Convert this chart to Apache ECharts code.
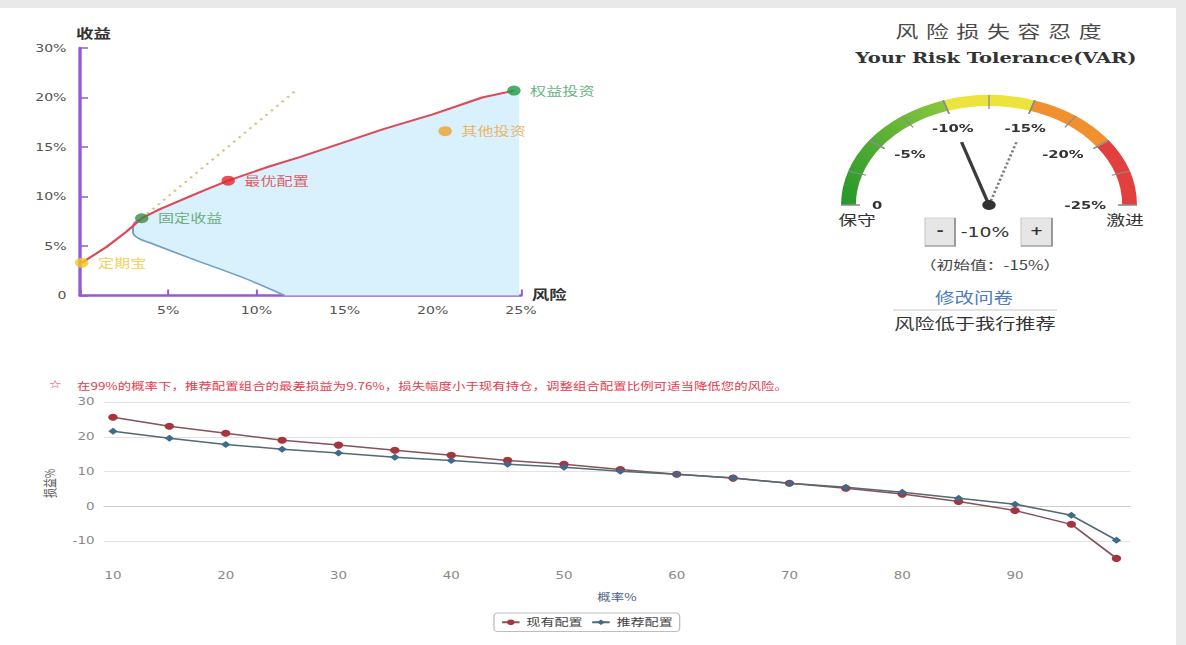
<!DOCTYPE html>
<html>
<head>
<meta charset="utf-8">
<script src="https://cdn.jsdelivr.net/npm/echarts@6/dist/echarts.min.js"></script>
<style>
  html, body { margin: 0; padding: 0; background: #e9e9e9; overflow: hidden; }
  #board { position: absolute; left: 0; top: 0; height: 645px; transform-origin: 0 0; }
</style>
</head>
<body>
<div id="board"></div>
<script>
// ---- efficient frontier (risk %, return %) ----
const frontierCurve = [[0.1,3.3],[1.5,4.9],[2.6,6.4],[3.5,7.8],[4.5,8.7],[5.7,9.6],[7.0,10.6],[8.4,11.6],
                       [10.5,12.9],[12.5,14.0],[15.0,15.5],[17.2,16.8],[20.0,18.3],[22.8,20.0],[24.6,20.7]];
const lowerCurve = [[3.4,7.7],[3.06,7.3],[3.0,6.4],[3.3,5.8],[4.0,5.3],[6.2,3.8],[9.1,1.9],[11.6,0]];
const tangentLine = [[3.5,7.8],[12.3,20.8]];
const frontierEdge = 24.9;
const assetNames  = ['定期宝','固定收益','最优配置','其他投资','权益投资'];
const assetRisk   = [0.1, 3.5, 8.4, 20.7, 24.6];
const assetReturn = [3.3, 7.8, 11.6, 16.6, 20.7];
const riskTickLabels   = ['', '5%', '10%', '15%', '20%', '25%'];
const returnTickLabels = ['0', '5%', '10%', '15%', '20%', '30%'];

// ---- risk tolerance gauge ----
const gaugeTickLabels = ['0', '-5%', '-10%', '-15%', '-20%', '-25%'];
const toleranceCurrent = 10;
const toleranceInitial = 15;

// ---- VaR curve ----
const probLevels     = [10,15,20,25,30,35,40,45,50,55,60,65,70,75,80,85,90,95,99];
const currentVar     = [25.6,23.0,21.0,19.0,17.6,16.1,14.7,13.2,12.1,10.6,9.2,8.1,6.6,5.2,3.5,1.4,-1.2,-5.2,-15.0];
const recommendedVar = [21.6,19.6,17.8,16.4,15.3,14.1,13.2,12.1,11.2,10.1,9.2,8.1,6.6,5.5,4.0,2.3,0.6,-2.6,-9.76];
const probTicks = [10,20,30,40,50,60,70,80,90];
const lossTicks = [-10,0,10,20,30];
const seriesNames = ['现有配置','推荐配置'];

// board is laid out narrow and stretched horizontally
const SX = 1.345;
const W = 1186 / SX;
const px = x => x / SX;

const board = document.getElementById('board');
board.style.width = W + 'px';
board.style.transform = 'scaleX(' + SX + ')';

const assetColors = ['#f2c81e', '#3f8a47', '#e3262b', '#eea12a', '#1f9a48'];
const assetLabelColors = ['#f0c428', '#4f9a5a', '#e2343a', '#eea43a', '#3aa060'];
const purple = '#955bd3';
const cjk = "'Noto Sans CJK SC', sans-serif";
const sans = "'DejaVu Sans', 'Noto Sans CJK SC', sans-serif";

function fillOutline() {
  const start = lowerCurve[0];
  const top = [start].concat(frontierCurve.filter(p => p[0] > start[0]));
  const last = top[top.length - 1];
  return top.concat([[frontierEdge, last[1]], [frontierEdge, 0]], lowerCurve.slice().reverse());
}

const dashedNeedle = (() => {
  let p = 'path://';
  for (let y = 0; y < 64; y += 4) p += 'M0 ' + y + 'h2v2h-2z';
  return p;
})();

const gaugeBands = [
  [0.4, new echarts.graphic.LinearGradient(0, 1, 1, 0, [{offset: 0, color: '#23962a'}, {offset: 1, color: '#8cc83e'}])],
  [0.6, '#ece43c'],
  [0.8, '#f0902e'],
  [1, '#e2403e']
];

const titleChars = '风险损失容忍度'.split('');
const graphics = [
  {type: 'rect', z: -10, shape: {x: 0, y: 8, width: px(1176), height: 637}, style: {fill: '#ffffff'}, silent: true},
  // gauge header
  ...titleChars.map((c, i) => ({
    type: 'text', x: px(998.5) + (i - 3) * 22.7, y: 31,
    style: {text: c, fontSize: 17, fontFamily: cjk, fill: '#4a4a4a', align: 'center', verticalAlign: 'middle'}
  })),
  {type: 'text', x: px(996), y: 58, style: {text: 'Your Risk Tolerance(VAR)', fontSize: 14.5, fontWeight: 'bold',
    fontFamily: "'DejaVu Serif', serif", fill: '#333', align: 'center', verticalAlign: 'middle'}},
  {type: 'text', x: px(857), y: 219, style: {text: '保守', fontSize: 14, fontFamily: cjk, fill: '#333', align: 'center', verticalAlign: 'middle'}},
  {type: 'text', x: px(1125), y: 219, style: {text: '激进', fontSize: 14, fontFamily: cjk, fill: '#333', align: 'center', verticalAlign: 'middle'}},
  // stepper
  {type: 'rect', shape: {x: px(925), y: 218, width: px(955) - px(925), height: 28}, style: {fill: '#e6e6e6', stroke: '#d0d0d0'}},
  {type: 'polyline', shape: {points: [[px(955), 218], [px(955), 246], [px(925), 246]]}, style: {stroke: '#8a8a8a', lineWidth: 1.2, fill: null}},
  {type: 'text', x: px(940), y: 231, style: {text: '-', fontSize: 13, fontWeight: 'bold', fontFamily: sans, fill: '#333', align: 'center', verticalAlign: 'middle'}},
  {type: 'rect', shape: {x: px(1021), y: 218, width: px(1052) - px(1021), height: 28}, style: {fill: '#e6e6e6', stroke: '#d0d0d0'}},
  {type: 'polyline', shape: {points: [[px(1052), 218], [px(1052), 246], [px(1021), 246]]}, style: {stroke: '#8a8a8a', lineWidth: 1.2, fill: null}},
  {type: 'text', x: px(1036.5), y: 231, style: {text: '+', fontSize: 12, fontWeight: 'bold', fontFamily: sans, fill: '#333', align: 'center', verticalAlign: 'middle'}},
  {type: 'text', x: px(985), y: 232, style: {text: '-' + toleranceCurrent + '%', fontSize: 14, fontFamily: sans, fill: '#333', align: 'center', verticalAlign: 'middle'}},
  {type: 'text', x: px(990), y: 265, style: {text: '（初始值：-' + toleranceInitial + '%）', fontSize: 12.5, fontFamily: cjk, fill: '#444', align: 'center', verticalAlign: 'middle'}},
  {type: 'text', x: px(974), y: 297, style: {text: '修改问卷', fontSize: 14.5, fontFamily: cjk, fill: '#4a7bc4', align: 'center', verticalAlign: 'middle'}},
  {type: 'line', shape: {x1: px(893), y1: 310, x2: px(1057), y2: 310}, style: {stroke: '#c8c8c8', lineWidth: 1}},
  {type: 'text', x: px(975), y: 322, style: {text: '风险低于我行推荐', fontSize: 15, fontFamily: cjk, fill: '#333', align: 'center', verticalAlign: 'middle'}},
  // VaR caption
  {type: 'text', x: px(55), y: 384, style: {text: '☆', fontSize: 11, fontFamily: sans, fill: '#e83a4a', align: 'center', verticalAlign: 'middle'}},
  {type: 'text', x: px(77), y: 385, style: {
    text: '在99%的概率下，推荐配置组合的最差损益为' + Math.abs(recommendedVar[recommendedVar.length - 1]) +
          '%，损失幅度小于现有持仓，调整组合配置比例可适当降低您的风险。',
    fontSize: 10, fontFamily: cjk, fill: '#e83a4a', align: 'left', verticalAlign: 'middle'}}
];

const chart = echarts.init(board, null, {renderer: 'svg', width: W, height: 645});

chart.setOption({
  animation: false,
  backgroundColor: '#e9e9e9',
  textStyle: {fontFamily: sans},
  graphic: graphics,
  legend: {
    data: seriesNames, left: px(494), top: 613, padding: [4, 5], itemGap: 6, itemWidth: 13, itemHeight: 7,
    borderColor: '#bdbdbd', borderWidth: 1, borderRadius: 3,
    textStyle: {fontSize: 10.5, color: '#444', fontFamily: cjk}
  },
  grid: [
    {left: px(80), top: 48, width: px(521) - px(80), height: 247.5},
    {left: px(104), top: 402, width: px(1130) - px(104), bottom: 80}
  ],
  xAxis: [
    {
      type: 'value', gridIndex: 0, min: 0, max: 25, interval: 5,
      name: '风险', nameLocation: 'end', nameGap: 8,
      nameTextStyle: {fontSize: 13, fontWeight: 'bold', color: '#333', fontFamily: cjk, verticalAlign: 'bottom', padding: [0, 0, -4, 0]},
      axisLine: {lineStyle: {color: purple, width: 2.5}},
      axisTick: {inside: true, length: 6, lineStyle: {color: purple, width: 1.5}},
      axisLabel: {margin: 9, fontSize: 10.5, color: '#555', formatter: (v, i) => riskTickLabels[i]},
      splitLine: {show: false}
    },
    {
      type: 'value', gridIndex: 1, min: 9.2, max: 100.2,
      name: '概率%', nameLocation: 'middle', nameGap: 26,
      nameTextStyle: {fontSize: 10, color: '#4d5f86', fontFamily: cjk},
      axisLine: {lineStyle: {color: '#cfcfcf', width: 1}},
      axisTick: {show: false, customValues: probTicks},
      axisLabel: {customValues: probTicks, margin: 6, fontSize: 10, color: '#888'},
      splitLine: {show: false}
    }
  ],
  yAxis: [
    {
      type: 'value', gridIndex: 0, min: 0, max: 25, interval: 5,
      name: '收益', nameLocation: 'end', nameGap: 9,
      nameTextStyle: {fontSize: 13, fontWeight: 'bold', color: '#333', fontFamily: cjk, align: 'left', padding: [0, 0, 0, -3]},
      axisLine: {lineStyle: {color: purple, width: 2.5}},
      axisTick: {inside: true, length: 6, lineStyle: {color: purple, width: 1.5}},
      axisLabel: {margin: 10, fontSize: 10.5, color: '#555', formatter: (v, i) => returnTickLabels[i]},
      splitLine: {show: false}
    },
    {
      type: 'value', gridIndex: 1, min: -16.9, max: 30,
      name: '损益%', nameLocation: 'middle', nameGap: 36, nameRotate: 90,
      nameTextStyle: {fontSize: 10, color: '#555', fontFamily: cjk},
      axisLine: {show: false},
      axisTick: {show: false, customValues: lossTicks},
      axisLabel: {customValues: lossTicks, margin: 7, fontSize: 10, color: '#888'},
      splitLine: {show: true, lineStyle: {color: '#e3e3e3', width: 1}}
    }
  ],
  series: [
    {
      type: 'custom', xAxisIndex: 0, yAxisIndex: 0, silent: true, z: 1,
      data: [[0, 0]],
      renderItem: (params, api) => ({
        type: 'polygon',
        shape: {points: fillOutline().map(p => api.coord(p))},
        style: {fill: '#d9f1fc'}
      })
    },
    {
      type: 'line', xAxisIndex: 0, yAxisIndex: 0, data: lowerCurve, symbol: 'none', smooth: 0.3, z: 2,
      lineStyle: {color: '#6f9fc6', width: 1.5}
    },
    {
      type: 'line', xAxisIndex: 0, yAxisIndex: 0, data: tangentLine, symbol: 'none', z: 2,
      lineStyle: {color: '#d8c488', width: 2, type: [2, 4]}
    },
    {
      type: 'line', xAxisIndex: 0, yAxisIndex: 0, data: frontierCurve, symbol: 'none', z: 3,
      lineStyle: {color: '#dc4a5a', width: 2}
    },
    {
      type: 'scatter', xAxisIndex: 0, yAxisIndex: 0, symbolSize: 10, z: 4,
      data: assetNames.map((n, i) => ({
        name: n, value: [assetRisk[i], assetReturn[i]],
        itemStyle: {color: assetColors[i]},
        label: {color: assetLabelColors[i]}
      })),
      label: {show: true, position: 'right', distance: 7, formatter: '{b}', fontSize: 12, fontFamily: cjk}
    },
    {
      type: 'gauge', center: [px(989), 205], radius: 110, startAngle: 180, endAngle: 0,
      min: 0, max: 25, splitNumber: 5,
      axisLine: {lineStyle: {width: 11, color: gaugeBands}},
      splitLine: {length: 14, distance: -11, lineStyle: {color: '#8d8d8d', width: 1.2}},
      axisTick: {splitNumber: 2, length: 14, distance: -11, lineStyle: {color: '#8d8d8d', width: 1}},
      axisLabel: {distance: 20, fontSize: 11, fontWeight: 'bold', color: '#333',
        formatter: v => gaugeTickLabels[Math.round(v / 5)]},
      pointer: {icon: 'rect', width: 2.5, length: '60%', itemStyle: {color: '#3b3b3b'}},
      anchor: {show: true, showAbove: true, size: 10, itemStyle: {color: '#333'}},
      title: {show: false}, detail: {show: false},
      data: [{value: toleranceCurrent}]
    },
    {
      type: 'gauge', center: [px(989), 205], radius: 110, startAngle: 180, endAngle: 0,
      min: 0, max: 25, z: 1,
      axisLine: {show: false}, splitLine: {show: false}, axisTick: {show: false}, axisLabel: {show: false},
      pointer: {icon: dashedNeedle, width: 2, length: '60%', itemStyle: {color: '#7a7a7a'}},
      anchor: {show: false}, title: {show: false}, detail: {show: false},
      data: [{value: toleranceInitial}]
    },
    {
      name: seriesNames[0], type: 'line', xAxisIndex: 1, yAxisIndex: 1,
      data: probLevels.map((p, i) => [p, currentVar[i]]),
      symbol: 'circle', symbolSize: 7,
      itemStyle: {color: '#a8343f'}, lineStyle: {color: '#86545b', width: 1.5}
    },
    {
      name: seriesNames[1], type: 'line', xAxisIndex: 1, yAxisIndex: 1,
      data: probLevels.map((p, i) => [p, recommendedVar[i]]),
      symbol: 'diamond', symbolSize: 7,
      itemStyle: {color: '#3d6b8c'}, lineStyle: {color: '#536a72', width: 1.5}
    }
  ]
});
</script>
</body>
</html>
